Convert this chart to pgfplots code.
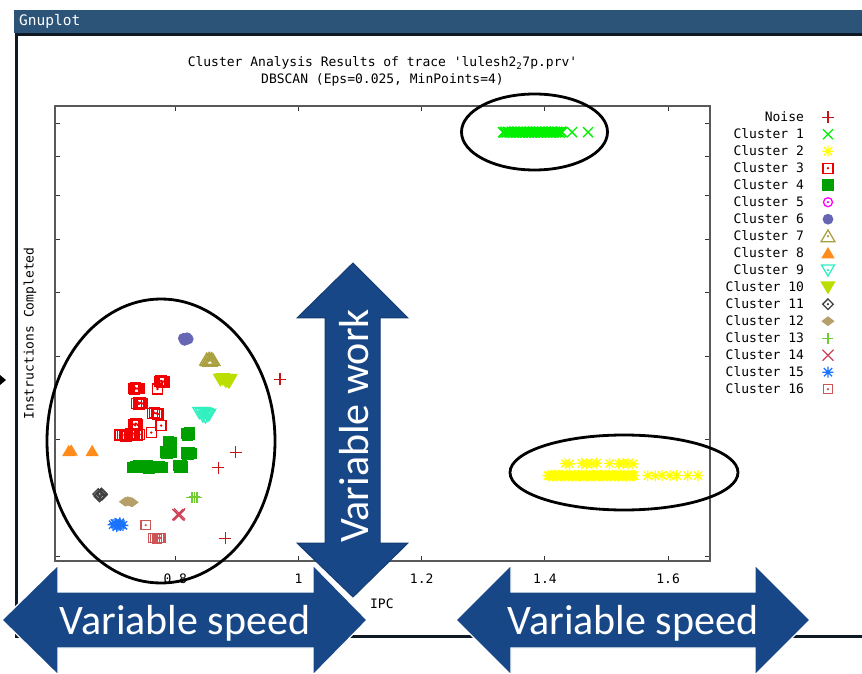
\documentclass[border=0pt]{standalone}
\usepackage{fontspec}
\usepackage{pgfplots}
\pgfplotsset{compat=1.18}
\newfontfamily\gpfont{DejaVu Sans Mono}
\newfontfamily\pptfont{Carlito}
\newcommand\gp{\gpfont\fontsize{13}{17}\selectfont}

\definecolor{noisec}{RGB}{200,20,20}
\definecolor{cA}{RGB}{0,240,0}
\definecolor{cB}{RGB}{255,255,0}
\definecolor{cC}{RGB}{240,0,0}
\definecolor{cD}{RGB}{0,160,0}
\definecolor{cE}{RGB}{255,0,255}
\definecolor{cF}{RGB}{102,102,180}
\definecolor{cG}{RGB}{170,160,64}
\definecolor{cH}{RGB}{255,140,26}
\definecolor{cI}{RGB}{48,240,192}
\definecolor{cJ}{RGB}{187,221,0}
\definecolor{cK}{RGB}{64,64,64}
\definecolor{cL}{RGB}{181,160,106}
\definecolor{cM}{RGB}{110,204,48}
\definecolor{cN}{RGB}{204,68,85}
\definecolor{cO}{RGB}{26,115,255}
\definecolor{cP}{RGB}{204,85,85}
\definecolor{arrowblue}{RGB}{24,71,135}
\definecolor{barblue}{RGB}{44,84,120}
\definecolor{framec}{RGB}{15,25,35}

\pgfdeclareplotmark{gpplus}{%
  \pgfpathmoveto{\pgfpoint{-\pgfplotmarksize}{0pt}}\pgfpathlineto{\pgfpoint{\pgfplotmarksize}{0pt}}%
  \pgfpathmoveto{\pgfpoint{0pt}{-\pgfplotmarksize}}\pgfpathlineto{\pgfpoint{0pt}{\pgfplotmarksize}}%
  \pgfusepathqstroke}
\pgfdeclareplotmark{gpx}{%
  \pgfpathmoveto{\pgfpoint{-\pgfplotmarksize}{-\pgfplotmarksize}}\pgfpathlineto{\pgfpoint{\pgfplotmarksize}{\pgfplotmarksize}}%
  \pgfpathmoveto{\pgfpoint{-\pgfplotmarksize}{\pgfplotmarksize}}\pgfpathlineto{\pgfpoint{\pgfplotmarksize}{-\pgfplotmarksize}}%
  \pgfusepathqstroke}
\pgfdeclareplotmark{gpstar}{%
  \pgfpathmoveto{\pgfpoint{-\pgfplotmarksize}{0pt}}\pgfpathlineto{\pgfpoint{\pgfplotmarksize}{0pt}}%
  \pgfpathmoveto{\pgfpoint{0pt}{-\pgfplotmarksize}}\pgfpathlineto{\pgfpoint{0pt}{\pgfplotmarksize}}%
  \pgfpathmoveto{\pgfpoint{-0.75\pgfplotmarksize}{-0.75\pgfplotmarksize}}\pgfpathlineto{\pgfpoint{0.75\pgfplotmarksize}{0.75\pgfplotmarksize}}%
  \pgfpathmoveto{\pgfpoint{-0.75\pgfplotmarksize}{0.75\pgfplotmarksize}}\pgfpathlineto{\pgfpoint{0.75\pgfplotmarksize}{-0.75\pgfplotmarksize}}%
  \pgfusepathqstroke}
\pgfdeclareplotmark{boxdot}{%
  \pgfpathrectangle{\pgfpoint{-\pgfplotmarksize}{-\pgfplotmarksize}}{\pgfpoint{2\pgfplotmarksize}{2\pgfplotmarksize}}%
  \pgfusepathqstroke
  \pgfpathcircle{\pgfpointorigin}{0.4pt}\pgfusepathqstroke}
\pgfdeclareplotmark{circdot}{%
  \pgfpathcircle{\pgfpointorigin}{\pgfplotmarksize}\pgfusepathqstroke
  \pgfpathcircle{\pgfpointorigin}{0.4pt}\pgfusepathqstroke}
\pgfdeclareplotmark{tridot}{%
  \pgfpathmoveto{\pgfpoint{0pt}{0.9\pgfplotmarksize}}%
  \pgfpathlineto{\pgfpoint{-\pgfplotmarksize}{-0.8\pgfplotmarksize}}%
  \pgfpathlineto{\pgfpoint{\pgfplotmarksize}{-0.8\pgfplotmarksize}}%
  \pgfpathclose\pgfusepathqstroke
  \pgfpathcircle{\pgfpointorigin}{0.4pt}\pgfusepathqstroke}
\pgfdeclareplotmark{trifill}{%
  \pgfpathmoveto{\pgfpoint{0pt}{0.9\pgfplotmarksize}}%
  \pgfpathlineto{\pgfpoint{-\pgfplotmarksize}{-0.8\pgfplotmarksize}}%
  \pgfpathlineto{\pgfpoint{\pgfplotmarksize}{-0.8\pgfplotmarksize}}%
  \pgfpathclose\pgfusepathqfillstroke}
\pgfdeclareplotmark{itridot}{%
  \pgfpathmoveto{\pgfpoint{0pt}{-0.9\pgfplotmarksize}}%
  \pgfpathlineto{\pgfpoint{-\pgfplotmarksize}{0.8\pgfplotmarksize}}%
  \pgfpathlineto{\pgfpoint{\pgfplotmarksize}{0.8\pgfplotmarksize}}%
  \pgfpathclose\pgfusepathqstroke
  \pgfpathcircle{\pgfpointorigin}{0.4pt}\pgfusepathqstroke}
\pgfdeclareplotmark{itrifill}{%
  \pgfpathmoveto{\pgfpoint{0pt}{-0.9\pgfplotmarksize}}%
  \pgfpathlineto{\pgfpoint{-\pgfplotmarksize}{0.8\pgfplotmarksize}}%
  \pgfpathlineto{\pgfpoint{\pgfplotmarksize}{0.8\pgfplotmarksize}}%
  \pgfpathclose\pgfusepathqfillstroke}
\pgfdeclareplotmark{diadot}{%
  \pgfpathmoveto{\pgfpoint{0pt}{\pgfplotmarksize}}%
  \pgfpathlineto{\pgfpoint{\pgfplotmarksize}{0pt}}%
  \pgfpathlineto{\pgfpoint{0pt}{-\pgfplotmarksize}}%
  \pgfpathlineto{\pgfpoint{-\pgfplotmarksize}{0pt}}%
  \pgfpathclose\pgfusepathqstroke
  \pgfpathcircle{\pgfpointorigin}{0.4pt}\pgfusepathqstroke}
\pgfdeclareplotmark{diafill}{%
  \pgfpathmoveto{\pgfpoint{0pt}{0.75\pgfplotmarksize}}%
  \pgfpathlineto{\pgfpoint{\pgfplotmarksize}{0pt}}%
  \pgfpathlineto{\pgfpoint{0pt}{-0.75\pgfplotmarksize}}%
  \pgfpathlineto{\pgfpoint{-\pgfplotmarksize}{0pt}}%
  \pgfpathclose\pgfusepathqfillstroke}

\pgfplotsset{gpmark/.style={only marks, line width=1.3pt,
  legend image code/.code={\draw[##1] plot coordinates {(0pt,0pt)}; \path[draw=none,fill=none] (-24pt,0pt) -- (8pt,0pt);}}}

\begin{document}
\begin{tikzpicture}
\path[use as bounding box] (0,0) rectangle (862pt,673pt);
\begin{scope}[yshift=673pt,x=1pt,y=-1pt]
  \fill[barblue] (14,10) rectangle (862,33);
  \node[anchor=west,text=white,font=\gpfont\fontsize{14.5}{15}\selectfont,inner sep=0pt] at (19,21.5) {Gnuplot};
  \draw[framec,line width=3pt] (16.5,34.5) -- (16.5,636.5) -- (862,636.5);
  \draw[framec,line width=3pt] (15,34.5) -- (862,34.5);
  \fill[black] (0,375) -- (6,380) -- (0,385) -- cycle;
\end{scope}

\begin{axis}[
  at={(55pt,112pt)}, anchor=south west,
  scale only axis, width=655pt, height=455pt,
  xmin=0.6047, xmax=1.668,
  ymode=log, ymin=1.966, ymax=9.55,
  xtick={0.8,1,1.2,1.4,1.6}, xticklabels={0.8,1,1.2,1.4,1.6},
  ytick={2,3,4,5,6,7,8,9}, yticklabel=\empty,
  yminorticks=false, xminorticks=false,
  tick align=inside, major tick length=5pt,
  axis line style={draw=black!65, line width=1.5pt},
  tick style={draw=black!80, line width=1pt},
  xticklabel style={font=\gp, anchor=center, yshift=-18pt},
  title={Cluster Analysis Results of trace \textquotesingle lulesh2\textsubscript{2}7p.prv\textquotesingle\\DBSCAN (Eps=0.025, MinPoints=4)},
  title style={font=\gp, align=center, at={(axis description cs:0.5,1.0626)}, anchor=center},
  xlabel={IPC},
  xlabel style={font=\gp, at={(axis description cs:0.499,-0.0945)}, anchor=center},
  ylabel={Instructions Completed},
  ylabel style={font=\gp, at={(axis description cs:-0.038,0.5)}, anchor=center},
  legend cell align=right,
  legend plot pos=right,
  legend style={at={(1,1)}, anchor=north west, xshift=15.5pt, yshift=-2.5pt,
    draw=none, fill=none, inner sep=0pt, font=\gp, row sep=0pt,
    nodes={inner sep=0pt, text height=12.5pt, text depth=4.5pt}},
]
\addplot[gpmark, color=noisec, mark=gpplus, mark size=6pt] coordinates {
(0.970,3.695) (0.898,2.868) (0.870,2.718) (0.881,2.127)};
\addlegendentry{Noise}

\addplot[gpmark, color=cA, mark=gpx, mark size=5pt] coordinates {
(1.332,8.72) (1.334,8.705) (1.336,8.735) (1.338,8.71) (1.340,8.73)
(1.342,8.72) (1.344,8.705) (1.346,8.735) (1.348,8.71) (1.350,8.73)
(1.352,8.72) (1.354,8.705) (1.356,8.735) (1.358,8.71) (1.360,8.73)
(1.362,8.72) (1.364,8.705) (1.366,8.735) (1.368,8.71) (1.370,8.73)
(1.372,8.72) (1.374,8.705) (1.376,8.735) (1.378,8.71) (1.380,8.73)
(1.382,8.72) (1.384,8.705) (1.386,8.735) (1.388,8.71) (1.390,8.73)
(1.392,8.72) (1.394,8.705) (1.396,8.735) (1.398,8.71) (1.400,8.73)
(1.402,8.72) (1.404,8.705) (1.406,8.735) (1.408,8.71) (1.410,8.73)
(1.412,8.72) (1.414,8.705) (1.416,8.735) (1.418,8.71) (1.420,8.73)
(1.422,8.72) (1.424,8.705) (1.426,8.735) (1.428,8.72)
(1.444,8.72) (1.470,8.72)};
\addlegendentry{Cluster 1}

\addplot[gpmark, color=cB, mark=gpstar, mark size=5.5pt] coordinates {
(1.405,2.645) (1.4075,2.641) (1.410,2.649) (1.4125,2.643) (1.415,2.647)
(1.4175,2.645) (1.420,2.641) (1.4225,2.649) (1.425,2.643) (1.4275,2.647)
(1.430,2.645) (1.4325,2.641) (1.435,2.649) (1.4375,2.643) (1.440,2.647)
(1.4425,2.645) (1.445,2.641) (1.4475,2.649) (1.450,2.643) (1.4525,2.647)
(1.455,2.645) (1.4575,2.641) (1.460,2.649) (1.4625,2.643) (1.465,2.647)
(1.4675,2.645) (1.470,2.641) (1.4725,2.649) (1.475,2.643) (1.4775,2.647)
(1.480,2.645) (1.4825,2.641) (1.485,2.649) (1.4875,2.643) (1.490,2.647)
(1.4925,2.645) (1.495,2.641) (1.4975,2.649) (1.500,2.643) (1.5025,2.647)
(1.505,2.645) (1.5075,2.641) (1.510,2.649) (1.5125,2.643) (1.515,2.647)
(1.5175,2.645) (1.520,2.641) (1.5225,2.649) (1.525,2.643) (1.5275,2.647)
(1.530,2.645) (1.5325,2.641) (1.535,2.649) (1.5375,2.643) (1.540,2.647)
(1.5425,2.645) (1.545,2.645)
(1.567,2.645) (1.579,2.643) (1.590,2.647) (1.603,2.645) (1.614,2.645)
(1.632,2.645) (1.6485,2.645)
(1.433,2.758) (1.440,2.755) (1.460,2.760) (1.468,2.755) (1.476,2.758)
(1.484,2.762) (1.505,2.758) (1.520,2.755) (1.527,2.760) (1.535,2.757)
(1.543,2.755)};
\addlegendentry{Cluster 2}

\addplot[gpmark, color=cC, mark=boxdot, mark size=5pt] coordinates {
(0.732,3.575) (0.735,3.585) (0.738,3.578) (0.741,3.582) (0.734,3.570)
(0.774,3.665) (0.777,3.675) (0.780,3.668) (0.783,3.662) (0.778,3.655)
(0.771,3.573)
(0.737,3.400) (0.740,3.410) (0.743,3.405) (0.746,3.398) (0.741,3.392)
(0.763,3.280) (0.766,3.290) (0.769,3.283) (0.772,3.276)
(0.733,3.160) (0.736,3.168) (0.739,3.155) (0.735,3.150)
(0.777,3.147)
(0.761,3.071)
(0.710,3.045) (0.714,3.050) (0.718,3.040) (0.722,3.048) (0.726,3.042)
(0.730,3.050) (0.734,3.040) (0.738,3.046) (0.742,3.050) (0.728,3.060)
(0.733,3.062) (0.720,3.035)};
\addlegendentry{Cluster 3}

\addplot[gpmark, color=cD, mark=square*, mark size=5.2pt] coordinates {
(0.818,3.06) (0.822,3.05) (0.820,3.045) (0.823,3.065)
(0.789,2.97) (0.793,2.96) (0.791,2.95)
(0.785,2.87) (0.789,2.875) (0.793,2.865) (0.787,2.86)
(0.819,2.86) (0.823,2.865) (0.826,2.855) (0.821,2.85)
(0.805,2.74) (0.809,2.735) (0.811,2.725) (0.807,2.72)
(0.731,2.72) (0.736,2.73) (0.741,2.735) (0.746,2.73) (0.751,2.72)
(0.757,2.715) (0.762,2.72) (0.768,2.725) (0.774,2.73) (0.778,2.72)
(0.755,2.735)};
\addlegendentry{Cluster 4}

\addlegendimage{gpmark, color=cE, mark=circdot, mark size=4.5pt}
\addlegendentry{Cluster 5}

\addplot[gpmark, color=cF, mark=*, mark size=4.7pt] coordinates {
(0.813,4.26) (0.817,4.24) (0.821,4.25) (0.815,4.23) (0.819,4.27)};
\addlegendentry{Cluster 6}

\addplot[gpmark, color=cG, mark=tridot, mark size=7pt] coordinates {
(0.851,3.96) (0.855,3.97) (0.858,3.96) (0.861,3.955) (0.856,3.945)
(0.853,3.95) (0.859,3.965)};
\addlegendentry{Cluster 7}

\addplot[gpmark, color=cH, mark=trifill, mark size=5.5pt] coordinates {
(0.627,2.88) (0.631,2.885) (0.665,2.88)};
\addlegendentry{Cluster 8}

\addplot[gpmark, color=cI, mark=itridot, mark size=6.5pt] coordinates {
(0.839,3.29) (0.843,3.28) (0.847,3.29) (0.851,3.28) (0.855,3.27)
(0.845,3.25) (0.849,3.24) (0.853,3.26)};
\addlegendentry{Cluster 9}

\addplot[gpmark, color=cJ, mark=itrifill, mark size=6.5pt] coordinates {
(0.873,3.69) (0.877,3.70) (0.881,3.69) (0.885,3.68) (0.889,3.69)
(0.882,3.67) (0.887,3.66)};
\addlegendentry{Cluster 10}

\addplot[gpmark, color=cK, mark=diadot, mark size=5.3pt] coordinates {
(0.675,2.48) (0.678,2.47) (0.681,2.475) (0.677,2.46) (0.680,2.485)};
\addlegendentry{Cluster 11}

\addplot[gpmark, color=cL, mark=diafill, mark size=5.5pt] coordinates {
(0.719,2.415) (0.723,2.42) (0.727,2.415) (0.730,2.41)};
\addlegendentry{Cluster 12}

\addplot[gpmark, color=cM, mark=gpplus, mark size=5.5pt] coordinates {
(0.827,2.45) (0.831,2.455) (0.835,2.45)};
\addlegendentry{Cluster 13}

\addplot[gpmark, color=cN, mark=gpx, mark size=5.5pt] coordinates {
(0.804,2.31) (0.806,2.305) (0.807,2.315)};
\addlegendentry{Cluster 14}

\addplot[gpmark, color=cO, mark=gpstar, mark size=5.5pt] coordinates {
(0.699,2.23) (0.703,2.235) (0.707,2.225) (0.711,2.23) (0.715,2.225)
(0.705,2.215) (0.710,2.245) (0.702,2.24)};
\addlegendentry{Cluster 15}

\addplot[gpmark, color=cP, mark=boxdot, mark size=4.6pt] coordinates {
(0.752,2.227) (0.764,2.13) (0.767,2.13) (0.770,2.125) (0.773,2.13) (0.776,2.13)};
\addlegendentry{Cluster 16}
\end{axis}

\begin{scope}[yshift=673pt,x=1pt,y=-1pt]
  \draw[black,line width=2.8pt] (161,441) ellipse [x radius=114pt, y radius=142pt];
  \draw[black,line width=2.8pt] (534.5,132) ellipse [x radius=73pt, y radius=38pt];
  \draw[black,line width=2.8pt] (624,472.5) ellipse [x radius=114pt, y radius=37.5pt];
  % vertical arrow
  \filldraw[fill=arrowblue, draw=arrowblue!85!black, line width=1pt, line join=miter]
    (353,263) -- (408,318) -- (380,318) -- (380,543) -- (408,543) -- (353,597)
    -- (297,543) -- (325,543) -- (325,318) -- (297,318) -- cycle;
  \node[rotate=90, anchor=base, text=white, inner sep=0pt,
        font=\pptfont\fontsize{42}{42}\selectfont] at (368,426) {Variable work};
  % left arrow
  \filldraw[fill=arrowblue, draw=white, line width=1.2pt, line join=miter]
    (2,620) -- (58,565) -- (58,592) -- (313,592) -- (313,565) -- (367,620)
    -- (313,675) -- (313,648) -- (58,648) -- (58,675) -- cycle;
  \node[anchor=base, text=white, inner sep=0pt,
        font=\pptfont\fontsize{42}{42}\selectfont] at (185,634) {Variable speed};
  % right arrow
  \filldraw[fill=arrowblue, draw=white, line width=1.2pt, line join=miter]
    (456,620) -- (511,565) -- (511,592) -- (755,592) -- (755,565) -- (810,620)
    -- (755,675) -- (755,648) -- (511,648) -- (511,675) -- cycle;
  \node[anchor=base, text=white, inner sep=0pt,
        font=\pptfont\fontsize{42}{42}\selectfont] at (633,634) {Variable speed};
\end{scope}
\end{tikzpicture}
\end{document}
